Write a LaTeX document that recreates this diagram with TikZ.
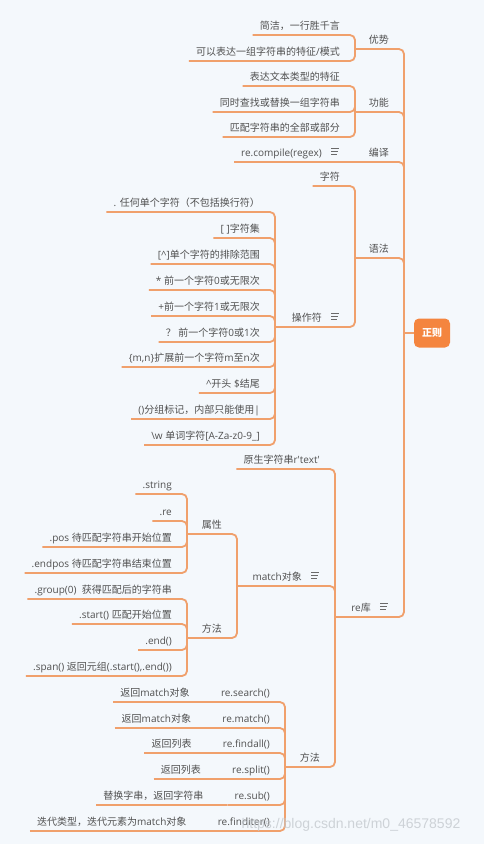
\documentclass[tikz,border=0pt]{standalone}
\usepackage{fontspec}
\setmainfont{Noto Sans CJK SC}
\newfontfamily\latfont{Open Sans}
\newfontfamily\wmfont{Liberation Sans}
\newcommand\latn[1]{{\latfont #1}}
\definecolor{bgc}{HTML}{F4F8FC}
\definecolor{lineor}{HTML}{F0A06C}
\definecolor{rootor}{HTML}{F4853F}
\definecolor{textgray}{HTML}{505050}
\definecolor{wmgray}{HTML}{C4C9CE}
\tikzset{
  txt/.style={anchor=south east, inner xsep=7pt, inner ysep=0pt, text depth=5.5pt,
    font=\fontsize{10}{12}\selectfont, text=textgray},
  conn/.style={draw=lineor, line width=1.8pt, rounded corners=5pt},
  iconline/.style={draw=textgray!85, line width=0.9pt},
  rootbox/.style={fill=rootor, rounded corners=5pt, minimum width=36pt, minimum height=29pt,
    inner sep=0pt, text=white, font=\fontsize{10}{12}\selectfont\bfseries},
  noteicon/.pic={\draw[iconline] (2,-14) -- ++(8,0) (2,-11) -- ++(7,0) (2,-8) -- ++(5.5,0);}
}
\begin{document}
\begin{tikzpicture}[x=1pt,y=-1pt]
\fill[bgc] (0,0) rectangle (484,844);
\useasboundingbox (0,0) rectangle (484,844);

% junction coordinates
\coordinate (root-j) at (404,333);
\coordinate (youshi-j) at (355,49);
\coordinate (gongneng-j) at (355,112);
\coordinate (bianyi-j) at (355,162);
\coordinate (yufa-j) at (355,258);
\coordinate (caozuo-j) at (275,327);
\coordinate (reku-j) at (335,617);
\coordinate (match-j) at (237,586);
\coordinate (shuxing-j) at (187,534);
\coordinate (mff-j) at (187,638);
\coordinate (rff-j) at (285,767);

% root
\node[rootbox] (root) at (432,333) {正则};

% 优势
\node[txt] (youshi) at (396,49) {优势};
\node[txt] (ys1) at (347,35) {简洁，一行胜千言};
\node[txt] (ys2) at (347,61) {可以表达一组字符串的特征\latn{/}模式};
% 功能
\node[txt] (gongneng) at (396,112) {功能};
\node[txt] (gn1) at (347,86) {表达文本类型的特征};
\node[txt] (gn2) at (347,112) {同时查找或替换一组字符串};
\node[txt] (gn3) at (347,137) {匹配字符串的全部或部分};
% 编译
\node[txt] (bianyi) at (396,162) {编译};
\node[txt] (rc) at (329,162) {\latn{re.compile(regex)}};
\pic at (rc.south east) {noteicon};
% 语法
\node[txt] (yufa) at (396,258) {语法};
\node[txt] (zifu) at (347,186) {字符};
\node[txt] (caozuo) at (329,327) {操作符};
\pic at (caozuo.south east) {noteicon};
\node[txt] (op1) at (267,212) {\latn{. }任何单个字符（不包括换行符）};
\node[txt] (op2) at (267,238) {\latn{[ ]}字符集};
\node[txt] (op3) at (267,264) {\latn{[\textasciicircum]}单个字符的排除范围};
\node[txt] (op4) at (267,290) {\latn{* }前一个字符\latn{0}或无限次};
\node[txt] (op5) at (267,316) {\latn{+}前一个字符\latn{1}或无限次};
\node[txt] (op6) at (267,342) {？\latn{ }前一个字符\latn{0}或\latn{1}次};
\node[txt] (op7) at (267,367) {\latn{\{m,n\}}扩展前一个字符\latn{m}至\latn{n}次};
\node[txt] (op8) at (267,393) {\latn{\textasciicircum}开头\latn{ \$}结尾};
\node[txt] (op9) at (267,419) {\latn{()}分组标记，内部只能使用\latn{|}};
\node[txt] (op10) at (267,445) {\latn{\textbackslash w }单词字符\latn{[A-Za-z0-9\_]}};
% re库
\node[txt] (reku) at (378,617) {\latn{re}库};
\pic at (reku.south east) {noteicon};
\node[txt] (raw) at (327,469) {原生字符串\latn{r\textquotesingle text\textquotesingle}};
\node[txt] (match) at (309,586) {\latn{match}对象};
\pic at (match.south east) {noteicon};
\node[txt] (shuxing) at (229,534) {属性};
\node[txt] (sx1) at (179,494) {\latn{.string}};
\node[txt] (sx2) at (179,521) {\latn{.re}};
\node[txt] (sx3) at (179,547) {\latn{.pos }待匹配字符串开始位置};
\node[txt] (sx4) at (179,573) {\latn{.endpos }待匹配字符串结束位置};
\node[txt] (mff) at (229,638) {方法};
\node[txt] (mf1) at (179,599) {\latn{.group(0)\ \ }获得匹配后的字符串};
\node[txt] (mf2) at (179,624) {\latn{.start() }匹配开始位置};
\node[txt] (mf3) at (179,650) {\latn{.end()}};
\node[txt] (mf4) at (179,676) {\latn{.span() }返回元组\latn{(.start(),.end())}};
\node[txt] (rff) at (327,767) {方法};
\node[txt] (rf1) at (277,702) {\latn{re.search()}};
\node[txt] (rf2) at (277,728) {\latn{re.match()}};
\node[txt] (rf3) at (277,753) {\latn{re.findall()}};
\node[txt] (rf4) at (277,779) {\latn{re.split()}};
\node[txt] (rf5) at (277,805) {\latn{re.sub()}};
\node[txt] (rf6) at (277,831) {\latn{re.finditer()}};
\node[txt] (rd1) at ([xshift=-17pt]rf1.south west) {返回\latn{match}对象};
\node[txt] (rd2) at ([xshift=-17pt]rf2.south west) {返回\latn{match}对象};
\node[txt] (rd3) at ([xshift=-17pt]rf3.south west) {返回列表};
\node[txt] (rd4) at ([xshift=-17pt]rf4.south west) {返回列表};
\node[txt] (rd5) at ([xshift=-17pt]rf5.south west) {替换字串，返回字符串};
\node[txt] (rd6) at ([xshift=-17pt]rf6.south west) {迭代类型，迭代元素为\latn{match}对象};

% connectors: root
\draw[conn] (root.west) -- (root-j);
\foreach \p in {youshi,gongneng,bianyi,yufa,reku}
  \draw[conn] (\p-j) -- (root-j |- \p-j) -- (root-j);
% leaves to parents
\foreach \c in {ys1,ys2}
  \draw[conn] (\c.south west) -- (youshi-j |- \c.south) -- (youshi-j);
\foreach \c in {gn1,gn2,gn3}
  \draw[conn] (\c.south west) -- (gongneng-j |- \c.south) -- (gongneng-j);
\draw[conn] (rc.south west) -- (bianyi-j);
\foreach \c in {zifu}
  \draw[conn] (\c.south west) -- (yufa-j |- \c.south) -- (yufa-j);
\draw[conn] (caozuo-j) -- (yufa-j |- caozuo-j) -- (yufa-j);
\foreach \c in {op1,op2,op3,op4,op5,op6,op7,op8,op9,op10}
  \draw[conn] (\c.south west) -- (caozuo-j |- \c.south) -- (caozuo-j);
% re库
\draw[conn] (raw.south west) -- (reku-j |- raw.south) -- (reku-j);
\draw[conn] (match-j) -- (reku-j |- match-j) -- (reku-j);
\draw[conn] (rff-j) -- (reku-j |- rff-j) -- (reku-j);
\draw[conn] (shuxing-j) -- (match-j |- shuxing-j) -- (match-j);
\draw[conn] (mff-j) -- (match-j |- mff-j) -- (match-j);
\foreach \c in {sx1,sx2,sx3,sx4}
  \draw[conn] (\c.south west) -- (shuxing-j |- \c.south) -- (shuxing-j);
\foreach \c in {mf1,mf2,mf3,mf4}
  \draw[conn] (\c.south west) -- (mff-j |- \c.south) -- (mff-j);
\foreach \i in {1,...,6}{
  \draw[conn] (rd\i.south west) -- (rf\i.south west);
  \draw[conn] (rf\i.south west) -- (rff-j |- rf\i.south) -- (rff-j);
}

% watermark
\node[font=\wmfont\fontsize{14}{14}\selectfont, text=wmgray, opacity=0.8] (wm) at (351,825) {https://blog.csdn.net/m0\_46578592};
\end{tikzpicture}
\end{document}
